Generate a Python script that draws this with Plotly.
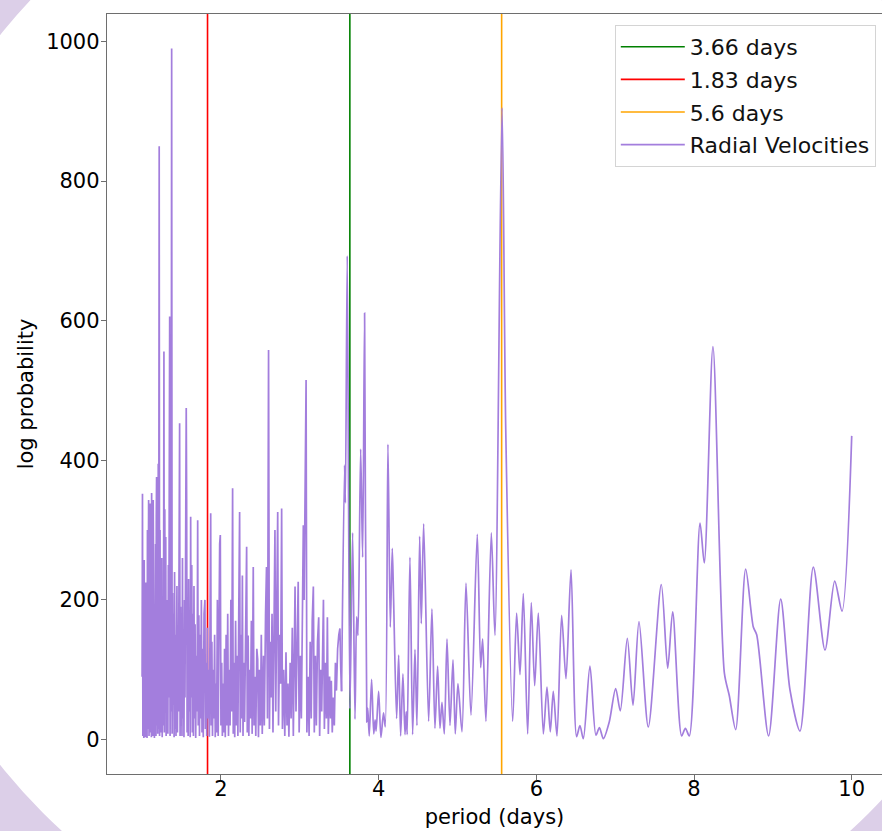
import plotly.graph_objects as go

# ---------------- data ----------------
# dense (short-period) part of the periodogram
dense_period = [
    1.000, 1.005, 1.010, 1.018, 1.022, 1.027, 1.032, 1.038, 1.043, 1.048, 1.053, 1.058, 1.063, 1.068,
    1.073, 1.078, 1.083, 1.088, 1.093, 1.098, 1.103, 1.108, 1.113, 1.118, 1.121, 1.126, 1.131, 1.136,
    1.141, 1.146, 1.151, 1.156, 1.161, 1.166, 1.171, 1.176, 1.180, 1.184, 1.189, 1.194, 1.199, 1.205,
    1.210, 1.217, 1.222, 1.228, 1.233, 1.238, 1.243, 1.250, 1.255, 1.262, 1.267, 1.272, 1.277, 1.282,
    1.288, 1.293, 1.300, 1.305, 1.310, 1.316, 1.322, 1.327, 1.333, 1.338, 1.344, 1.350, 1.355, 1.362,
    1.368, 1.375, 1.381, 1.387, 1.393, 1.400, 1.406, 1.412, 1.418, 1.424, 1.430, 1.436, 1.442, 1.448,
    1.455, 1.461, 1.470, 1.476, 1.482, 1.488, 1.494, 1.500, 1.506, 1.512, 1.518, 1.525, 1.531, 1.538,
    1.544, 1.552, 1.560, 1.565, 1.571, 1.578, 1.584, 1.590, 1.597, 1.604, 1.610, 1.616, 1.622, 1.630,
    1.637, 1.644, 1.651, 1.658, 1.664, 1.672, 1.680, 1.688, 1.697, 1.705, 1.712, 1.720, 1.728, 1.736,
    1.744, 1.752, 1.760, 1.768, 1.776, 1.786, 1.797, 1.803, 1.812, 1.820, 1.828, 1.836, 1.845, 1.853,
    1.862, 1.870, 1.877, 1.885, 1.893, 1.902, 1.910, 1.920, 1.928, 1.936, 1.945, 1.955, 1.965, 1.975,
    1.984, 1.992, 2.000, 2.010, 2.018, 2.028, 2.036, 2.046, 2.055, 2.066, 2.076, 2.086, 2.096, 2.106,
    2.116, 2.126, 2.136, 2.148, 2.156, 2.166, 2.175, 2.186, 2.196, 2.206, 2.215, 2.226, 2.237, 2.245,
    2.253, 2.262, 2.272, 2.280, 2.290, 2.300, 2.312, 2.326, 2.334, 2.345, 2.354, 2.364, 2.374, 2.386,
    2.396, 2.410, 2.420, 2.432, 2.442, 2.455, 2.466, 2.476, 2.488, 2.500, 2.512, 2.524, 2.540, 2.550,
    2.566, 2.578, 2.590, 2.604, 2.615, 2.626, 2.636, 2.648, 2.660, 2.675, 2.685, 2.695, 2.710, 2.720,
    2.730, 2.745, 2.757, 2.770, 2.780, 2.795, 2.810, 2.825, 2.838, 2.850, 2.862, 2.878, 2.890, 2.905,
    2.918, 2.940, 2.952, 2.968, 2.980, 2.992, 3.008, 3.020, 3.035, 3.045, 3.055, 3.070, 3.080, 3.090,
    3.105, 3.118, 3.132, 3.145, 3.158, 3.172, 3.184, 3.198, 3.210, 3.225, 3.240, 3.252, 3.265, 3.278,
    3.290, 3.300, 3.312, 3.325, 3.338, 3.350, 3.362, 3.378, 3.390, 3.400, 3.412, 3.425, 3.438, 3.452,
    3.465, 3.480, 3.495, 3.509, 3.520, 3.530,
]
dense_logp = [
    90, 352, 5, 220, 2, 257, 10, 140, 3, 225, 8, 190, 2, 300,
    15, 110, 343, 5, 250, 10, 338, 20, 160, 3, 353, 40, 200, 5,
    343, 60, 230, 2, 180, 10, 280, 5, 320, 376, 20, 250, 8, 395,
    15, 850, 5, 300, 30, 200, 10, 260, 3, 180, 20, 120, 556, 10,
    330, 40, 290, 5, 150, 30, 200, 8, 250, 60, 420, 606, 5, 130,
    40, 990, 8, 210, 50, 180, 3, 240, 15, 150, 5, 100, 220, 10,
    160, 40, 300, 453, 5, 190, 20, 110, 5, 260, 30, 140, 3, 200,
    60, 300, 475, 345, 10, 170, 5, 230, 40, 150, 3, 319, 60, 250,
    10, 180, 5, 220, 30, 165, 2, 120, 40, 314, 20, 178, 5, 150,
    30, 200, 10, 130, 3, 180, 200, 15, 110, 5, 160, 30, 100, 4,
    200, 324, 20, 140, 5, 100, 30, 150, 3, 80, 10, 200, 5, 250,
    280, 293, 20, 110, 5, 80, 10, 130, 3, 150, 20, 180, 5, 100,
    20, 200, 40, 360, 8, 110, 3, 170, 20, 120, 5, 180, 326, 10,
    150, 30, 235, 5, 110, 25, 180, 276, 10, 149, 5, 100, 30, 170,
    8, 247, 20, 90, 5, 130, 115, 3, 100, 20, 150, 8, 120, 20,
    180, 247, 30, 558, 15, 140, 60, 180, 10, 200, 300, 40, 250, 326,
    20, 150, 80, 331, 15, 100, 5, 125, 20, 80, 4, 110, 30, 160,
    5, 219, 40, 160, 226, 10, 120, 30, 200, 307, 200, 400, 515, 10,
    90, 5, 140, 30, 170, 219, 10, 120, 20, 140, 175, 5, 100, 40,
    170, 200, 15, 110, 30, 175, 8, 90, 30, 84, 10, 60, 20, 110,
    70, 130, 150, 159, 100, 69,
]

# smoother (long-period) part of the periodogram
smooth_period = [
    3.530, 3.568, 3.578, 3.602, 3.636, 3.670, 3.700, 3.721, 3.738, 3.772, 3.797, 3.822, 3.850, 3.862,
    3.881, 3.911, 3.938, 3.955, 3.968, 4.000, 4.029, 4.062, 4.084, 4.118, 4.148, 4.173, 4.190, 4.228,
    4.254, 4.279, 4.308, 4.334, 4.350, 4.362, 4.397, 4.431, 4.461, 4.486, 4.520, 4.541, 4.571, 4.634,
    4.676, 4.714, 4.748, 4.778, 4.803, 4.833, 4.867, 4.905, 4.943, 4.972, 5.006, 5.057, 5.108, 5.171,
    5.251, 5.294, 5.319, 5.361, 5.429, 5.475, 5.565, 5.612, 5.700, 5.750, 5.793, 5.835, 5.890, 5.936,
    5.979, 6.025, 6.089, 6.135, 6.177, 6.215, 6.262, 6.321, 6.376, 6.440, 6.511, 6.553, 6.596, 6.680,
    6.756, 6.800, 6.850, 6.925, 7.006, 7.065, 7.154, 7.226, 7.302, 7.420, 7.585, 7.666, 7.729, 7.843,
    7.890, 7.940, 8.076, 8.130, 8.240, 8.385, 8.447, 8.528, 8.655, 8.752, 8.795, 8.946, 9.099, 9.217,
    9.344, 9.513, 9.661, 9.784, 9.877, 10.000,
]
smooth_logp = [
    69, 393, 339, 693, 44, 296, 29, 176, 149, 416, 261, 611, 25, 45,
    5, 86, 8, 28, 12, 69, 3, 38, 18, 423, 161, 274, 200, 30,
    121, 5, 94, 7, 40, 7, 261, 7, 129, 20, 291, 166, 309, 26,
    187, 16, 105, 16, 53, 8, 144, 20, 114, 8, 80, 11, 224, 35,
    294, 103, 144, 26, 296, 149, 905, 445, 26, 181, 93, 209, 8, 196,
    77, 181, 8, 75, 11, 69, 5, 178, 87, 243, 4, 20, 1, 105,
    6, 17, 1, 25, 73, 41, 145, 49, 169, 18, 222, 102, 183, 5,
    16, 5, 310, 253, 563, 95, 63, 14, 244, 161, 150, 5, 201, 71,
    12, 247, 128, 227, 184, 435,
]

# marked periods (vertical lines) and their legend labels
mark_period = [3.635, 1.83, 5.56]
mark_label = ["3.66 days", "1.83 days", "5.6 days"]
mark_color = ["green", "red", "orange"]

x_ticks = [2, 4, 6, 8, 10]
y_ticks = [0, 200, 400, 600, 800, 1000]

PURPLE = "#a37edd"
FONT = "DejaVu Sans"

fig = go.Figure()

fig.add_trace(go.Scatter(
    x=dense_period, y=dense_logp, mode="lines",
    line=dict(color=PURPLE, width=1.7),
    name="Radial Velocities", legendgroup="rv", showlegend=False,
    hoverinfo="skip",
))
fig.add_trace(go.Scatter(
    x=smooth_period, y=smooth_logp, mode="lines",
    line=dict(color=PURPLE, width=1.7, shape="spline", smoothing=0.8),
    name="Radial Velocities", legendgroup="rv", showlegend=True, legendrank=4,
))

shapes = []
# lavender page behind a large white disc
shapes.append(dict(
    type="circle", xref="paper", yref="paper",
    x0=-0.3032, x1=1.2039, y0=-0.2763, y1=1.2605,
    fillcolor="white", line=dict(width=0), layer="below",
))
for i, (p, lab, col) in enumerate(zip(mark_period, mark_label, mark_color)):
    shapes.append(dict(
        type="line", xref="x", yref="paper", x0=p, x1=p, y0=0, y1=1,
        line=dict(color=col, width=1.6), layer="below",
        name=lab, showlegend=True, legendrank=i + 1, legendgroup="m%d" % i,
    ))

fig.update_layout(
    width=882, height=831,
    margin=dict(l=107, r=0, t=14, b=57, pad=0),
    paper_bgcolor="#dccfe8",
    plot_bgcolor="rgba(0,0,0,0)",
    shapes=shapes,
    font=dict(family=FONT, size=21, color="black"),
    showlegend=True,
    legend=dict(
        x=0.992, xanchor="right", y=0.9855, yanchor="top",
        bgcolor="white", bordercolor="#d4d4d4", borderwidth=1,
        font=dict(family=FONT, size=22, color="#111111"),
        itemwidth=64, traceorder="grouped", tracegroupgap=1,
    ),
    xaxis=dict(
        range=[0.555, 10.384], tickvals=x_ticks, ticktext=[str(t) for t in x_ticks],
        showgrid=False, zeroline=False,
        showline=True, mirror=True, linecolor="#6e6e6e", linewidth=1.4,
        ticks="outside", ticklen=5, tickwidth=1.2, tickcolor="#6e6e6e",
        ticklabelstandoff=-9,
        tickfont=dict(family=FONT, size=21, color="black"),
        title=dict(text="period (days)", font=dict(family=FONT, size=21, color="black"), standoff=8),
    ),
    yaxis=dict(
        range=[-49.5, 1039.5], tickvals=y_ticks, ticktext=[str(t) for t in y_ticks],
        showgrid=False, zeroline=False,
        showline=True, mirror=False, linecolor="#6e6e6e", linewidth=1.4,
        ticks="outside", ticklen=5, tickwidth=1.2, tickcolor="#6e6e6e",
        ticklabelstandoff=-3,
        tickfont=dict(family=FONT, size=21, color="black"),
        title=dict(text="log probability", font=dict(family=FONT, size=21, color="black"), standoff=6),
    ),
)

fig.write_html(
    "out.html",
    config={"displayModeBar": False},
    post_script="document.body.style.margin='0';document.body.style.overflow='hidden';",
)
